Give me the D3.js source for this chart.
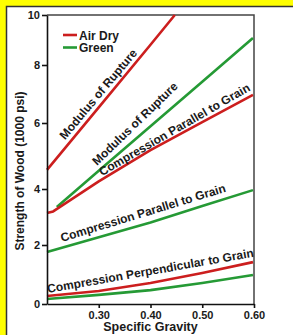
<!DOCTYPE html>
<html>
<head>
<meta charset="utf-8">
<script src="https://cdn.jsdelivr.net/npm/d3@7"></script>
<style>
  html, body { margin: 0; padding: 0; background: #ffff00; }
  svg { display: block; }
  text { font-family: "Liberation Sans", Arial, sans-serif; font-weight: bold; fill: #1a1a1a; }
</style>
</head>
<body>
<svg id="chart" width="293" height="335"></svg>
<script>
// tick values
const sgTicks = [0.30, 0.40, 0.50, 0.60];
const strengthTicks = [0, 2, 4, 6, 8, 10];

// [specific gravity, strength (1000 psi)]
const airDryRupture = [[0.20, 4.58], [0.30, 6.54], [0.40, 8.81], [0.447, 10.0]];
const greenRupture = [[0.219, 3.36], [0.30, 4.55], [0.40, 5.90], [0.50, 7.42], [0.598, 9.08]];
const airDryParallel = [[0.20, 3.14], [0.212, 3.20], [0.30, 4.23], [0.40, 5.18], [0.50, 6.03], [0.598, 6.97]];
const greenParallel = [[0.20, 1.76], [0.30, 2.28], [0.40, 2.80], [0.50, 3.39], [0.598, 3.96]];
const airDryPerp = [[0.20, 0.27], [0.30, 0.44], [0.40, 0.71], [0.50, 1.05], [0.598, 1.42]];
const greenPerp = [[0.20, 0.17], [0.30, 0.31], [0.40, 0.47], [0.50, 0.71], [0.598, 0.98]];

const legendNames = ["Air Dry", "Green"];

// curve labels: text, anchor [sg, strength], angle
const curveLabels = [
  ["Modulus of Rupture", [0.2348, 5.48], -50],
  ["Modulus of Rupture", [0.2966, 4.70], -44],
  ["Compression Parallel to Grain", [0.3063, 4.39], -30],
  ["Compression Parallel to Grain", [0.229, 2.11], -17],
  ["Compression Perpendicular to Grain", [0.2019, 0.37], -10]
];

const RED = "#cc1e1e", GREEN = "#259a35";

const svg = d3.select("#chart");

// yellow card with white panel
svg.append("rect").attr("width", 293).attr("height", 335).attr("fill", "#ffff00");
svg.append("rect").attr("x", 6.5).attr("y", 6.5).attr("width", 400).attr("height", 400)
  .attr("fill", "#fff").attr("stroke", "#333").attr("stroke-width", 1.5);

const x = d3.scaleLinear().domain([0.2, 0.6]).range([47, 254]);
// the scanned axis is not evenly spaced, so map each tick separately
const y = d3.scaleLinear().domain(strengthTicks).range([304, 245, 189, 123, 65, 15]);

// frame top / right
svg.append("path")
  .attr("d", `M${x(0.2)},${y(10)}H${x(0.6)}V${y(0)}`)
  .attr("fill", "none").attr("stroke", "#444").attr("stroke-width", 1.5);

const line = d3.line().x(d => x(d[0])).y(d => y(d[1])).curve(d3.curveLinear);

const series = [
  [airDryRupture, RED], [greenRupture, GREEN],
  [airDryParallel, RED], [greenParallel, GREEN],
  [greenPerp, GREEN], [airDryPerp, RED]
];
svg.append("g").selectAll("path").data(series).join("path")
  .attr("d", d => line(d[0]))
  .attr("fill", "none")
  .attr("stroke", d => d[1])
  .attr("stroke-width", 2.6)
  .attr("stroke-linejoin", "round");

// axes
const yAxis = svg.append("g").attr("transform", `translate(${x(0.2)},0)`)
  .call(d3.axisLeft(y).tickValues(strengthTicks).tickSize(5).tickSizeOuter(0).tickFormat(d3.format("d")));
const xAxis = svg.append("g").attr("transform", `translate(0,${y(0)})`)
  .call(d3.axisBottom(x).tickValues(sgTicks).tickSize(4).tickSizeOuter(0).tickFormat(d3.format(".2f")));
[yAxis, xAxis].forEach(g => {
  g.selectAll("path, line").attr("stroke", "#111").attr("stroke-width", 1.6);
  g.selectAll("text").attr("font-size", 11).style("font-family", "'Liberation Sans', Arial, sans-serif")
    .style("font-weight", "bold").attr("fill", "#222");
});
yAxis.selectAll("text").attr("x", -7);
xAxis.selectAll("text").attr("y", 7);

// curve labels
svg.append("g").selectAll("text").data(curveLabels).join("text")
  .attr("transform", d => `translate(${x(d[1][0])},${y(d[1][1])}) rotate(${d[2]})`)
  .attr("font-size", 12)
  .text(d => d[0]);

// axis titles
svg.append("text").attr("x", (x(0.2) + x(0.6)) / 2).attr("y", 331)
  .attr("text-anchor", "middle").attr("font-size", 12.5).text("Specific Gravity");
svg.append("text").attr("transform", "translate(24,171) rotate(-90)")
  .attr("text-anchor", "middle").attr("font-size", 12).text("Strength of Wood (1000 psi)");

// legend
const legend = svg.append("g").selectAll("g").data(legendNames).join("g")
  .attr("transform", (d, i) => `translate(63,${35 + i * 12.5})`);
legend.append("line").attr("x1", 0).attr("x2", 14)
  .attr("stroke", (d, i) => i ? GREEN : RED).attr("stroke-width", 2.6);
legend.append("text").attr("x", 16).attr("y", 4.5).attr("font-size", 12).text(d => d);
</script>
</body>
</html>
